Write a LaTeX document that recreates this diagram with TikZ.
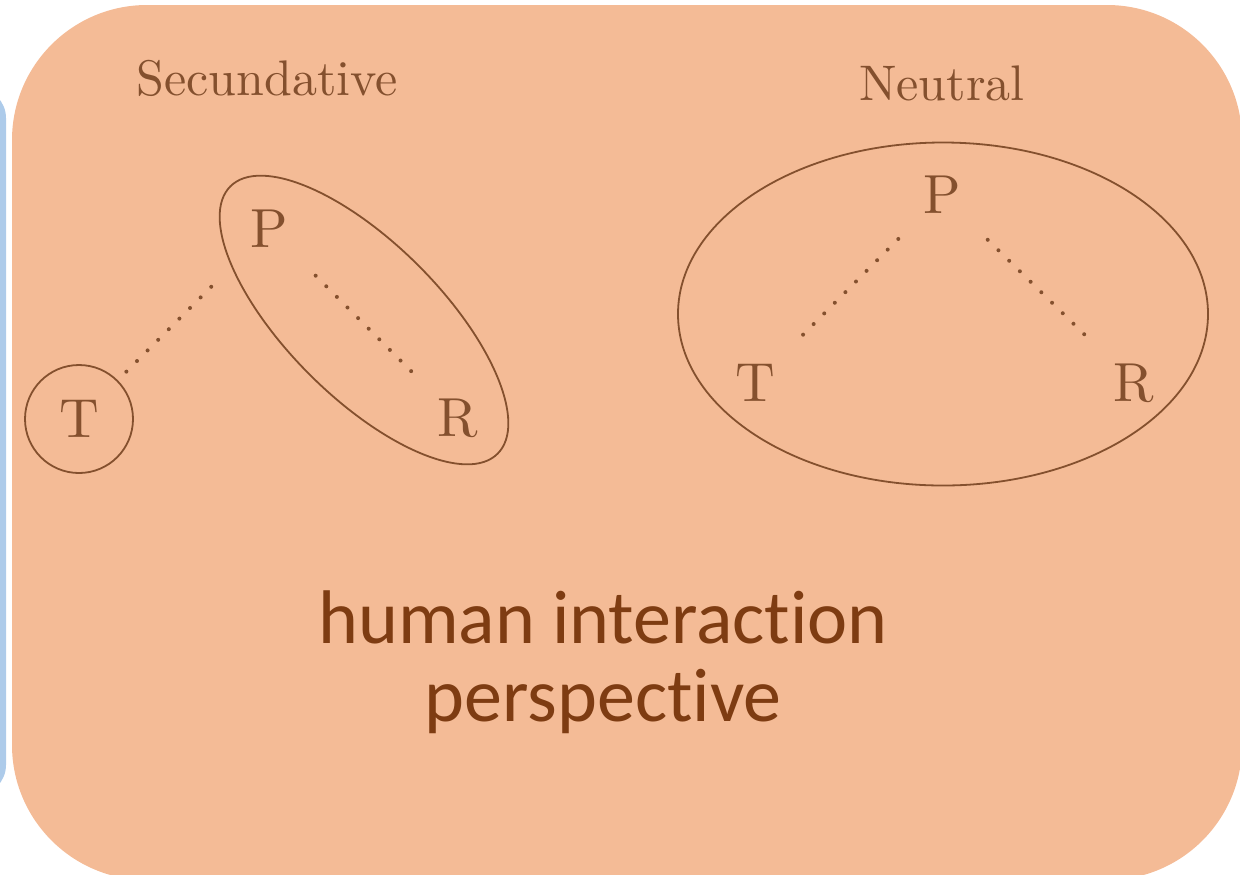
\documentclass[tikz,border=0pt]{standalone}
\usepackage{fontspec}
\newfontfamily\calibri[Ligatures=NoCommon]{Carlito}
\newfontfamily\garfont{lmroman10-regular.otf}
\usetikzlibrary{shapes.geometric}
\definecolor{boxorange}{HTML}{F4BB96}
\definecolor{boxblue}{HTML}{ADCBEA}
\definecolor{inkbrown}{HTML}{84502E}
\definecolor{textbrown}{HTML}{7E3C12}
\begin{document}
\begin{tikzpicture}[x=0.5pt,y=-0.5pt,
  letter/.style={text=inkbrown, font=\garfont\fontsize{27.5}{27.5}\selectfont, inner sep=0pt},
  title/.style={text=inkbrown, font=\garfont\fontsize{25}{25}\selectfont, inner sep=0pt, anchor=base},
  ring/.style={draw=inkbrown, line width=0.9pt, inner sep=0pt, outer sep=0pt},
  dots/.style={draw=inkbrown, line width=2pt, line cap=round, dash pattern=on 0pt off 7.5pt}
]
\useasboundingbox (0,0) rectangle (1240,874);
\clip (0,0) rectangle (1240,874);
\fill[boxblue, rounded corners=15pt] (-300,88) rectangle (6,795);
\fill[boxorange, rounded corners=67.5pt] (12,5) rectangle (1242,880);

% Secundative
\node[title] (sec) at (267,95) {Secundative};
\node[ring, circle, minimum size=54pt, text=inkbrown, font=\garfont\fontsize{27.5}{27.5}\selectfont] (T1) at (79,419) {T};
\node[letter] (P1) at (269,229) {P};
\node[letter] (R1) at (458,418) {R};
\node[ring, ellipse, minimum width=189pt, minimum height=77pt, rotate=-45] (E1) at (364,320) {};
\draw[dots, shorten <=33pt, shorten >=33pt] (P1.center) -- (R1.center);
\draw[dots, shorten <=33.5pt, shorten >=33.5pt] (T1.center) -- (P1.center);

% Neutral
\node[title] (neu) at (942,100) {Neutral};
\node[letter] (P2) at (942,195) {P};
\node[letter] (T2) at (755,383) {T};
\node[letter] (R2) at (1134,383) {R};
\node[ring, ellipse, minimum width=265pt, minimum height=171.5pt] (E2) at (943,314) {};
\draw[dots, shorten <=31pt, shorten >=32pt] (P2.center) -- (T2.center);
\draw[dots, shorten <=32pt, shorten >=33pt] (P2.center) -- (R2.center);

\node[font=\calibri\fontsize{38}{39}\selectfont, text=textbrown, align=center] (hip) at (603,662) {human interaction\\perspective};
\end{tikzpicture}
\end{document}
